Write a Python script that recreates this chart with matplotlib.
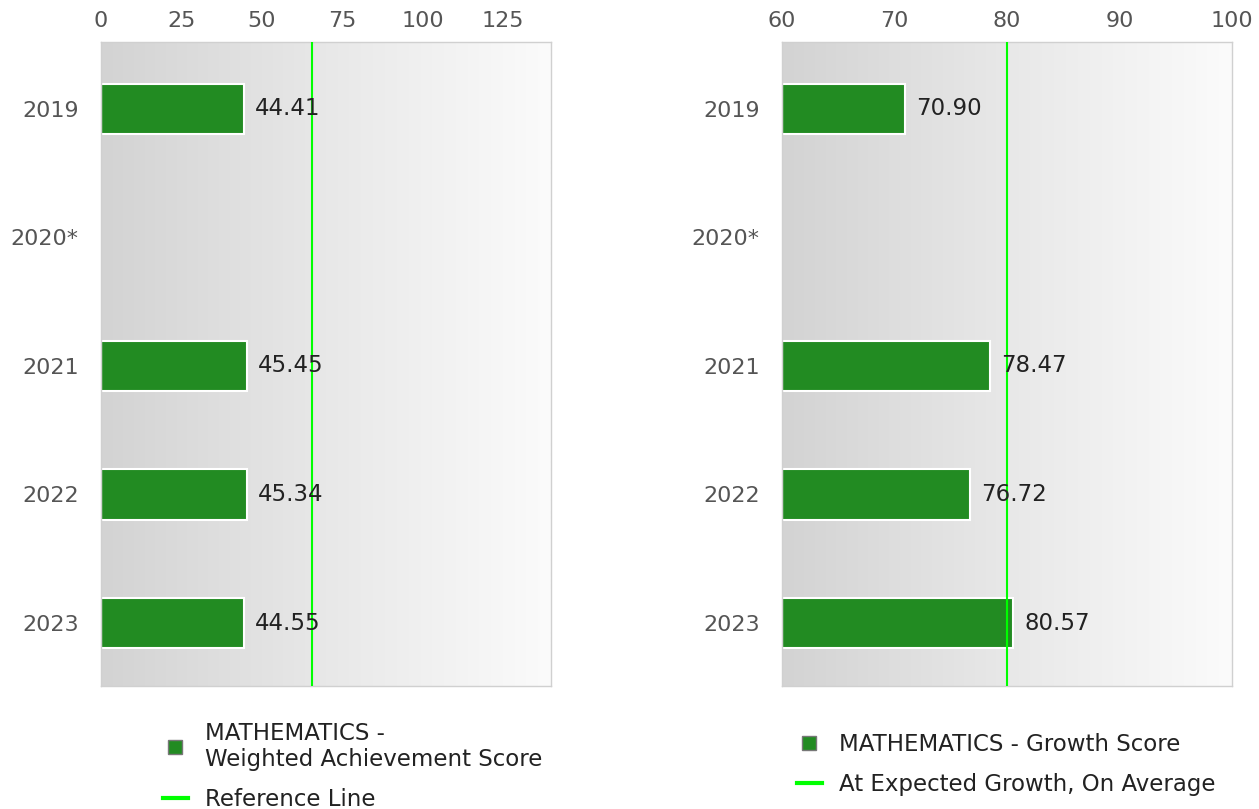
import numpy as np
import matplotlib
matplotlib.use('Agg')
import matplotlib.pyplot as plt
from matplotlib.colors import LinearSegmentedColormap
from matplotlib.lines import Line2D

# Data
years = ['2019', '2020*', '2021', '2022', '2023']
achievement = [44.41, np.nan, 45.45, 45.34, 44.55]
growth = [70.90, np.nan, 78.47, 76.72, 80.57]
achievement_ref = 65.6
growth_ref = 80

achievement_ticks = [0, 25, 50, 75, 100, 125]
growth_ticks = [60, 70, 80, 90, 100]

bar_color = '#228B22'
ref_color = '#00ff00'
bg_cmap = LinearSegmentedColormap.from_list('bg', ['#d3d3d3', '#e8e8e8', '#fbfbfb'])

plt.rcParams['font.family'] = ['DejaVu Sans']

fig = plt.figure(figsize=(12.59, 8.09), dpi=100)
W, H = 1259, 809


def make_panel(left_px, values, ref, ticks, xlim, base):
    ax = fig.add_axes([left_px / W, 1 - 686 / H, 450 / W, 644 / H])
    y = np.arange(len(years))

    # gradient background
    grad = np.linspace(0, 1, 256).reshape(1, -1)
    ax.imshow(grad, cmap=bg_cmap, aspect='auto', extent=[0, 1, 0, 1],
              transform=ax.transAxes, zorder=0)

    for yi, v in zip(y, values):
        if np.isnan(v):
            continue
        ax.barh(yi, v - base, left=base, height=0.39, color=bar_color,
                edgecolor='white', linewidth=1.5, zorder=2)
        ax.annotate(f'{v:.2f}', (v, yi), xytext=(8, 0), textcoords='offset points',
                    va='center', ha='left', fontsize=16.5, color='#222222', zorder=4)

    ax.axvline(ref, color=ref_color, linewidth=1.5, zorder=3)

    ax.set_xlim(*xlim)
    ax.set_ylim(4.49, -0.52)
    ax.set_autoscale_on(False)
    ax.set_yticks(y)
    ax.set_yticklabels(years)
    ax.set_xticks(ticks)
    ax.xaxis.tick_top()
    ax.tick_params(axis='both', length=0, labelsize=16, labelcolor='#555555')
    ax.tick_params(axis='x', pad=8)
    ax.tick_params(axis='y', pad=16)
    for s in ax.spines.values():
        s.set_color('#d0d0d0')
        s.set_linewidth(1)
    return ax


ax1 = make_panel(101, achievement, achievement_ref, achievement_ticks, (0, 140), 0)
ax2 = make_panel(782, growth, growth_ref, growth_ticks, (60, 100), 60)

sq = Line2D([], [], marker='s', linestyle='none', markersize=10,
            markerfacecolor=bar_color, markeredgecolor='#777777', markeredgewidth=1)
ln = Line2D([], [], color=ref_color, linewidth=3)

fig.legend([sq, ln], ['MATHEMATICS -\nWeighted Achievement Score', 'Reference Line'],
           loc='upper left', bbox_to_anchor=(142 / W, 1 - 701 / H), frameon=False,
           fontsize=16.5, handlelength=1.1, handletextpad=0.75, labelspacing=0.72,
           labelcolor='#222222')
fig.legend([sq, ln], ['MATHEMATICS - Growth Score', 'At Expected Growth, On Average'],
           loc='upper left', bbox_to_anchor=(776 / W, 1 - 712 / H), frameon=False,
           fontsize=16.5, handlelength=1.1, handletextpad=0.75, labelspacing=0.77,
           labelcolor='#222222')

plt.savefig('out.png', dpi=100)
